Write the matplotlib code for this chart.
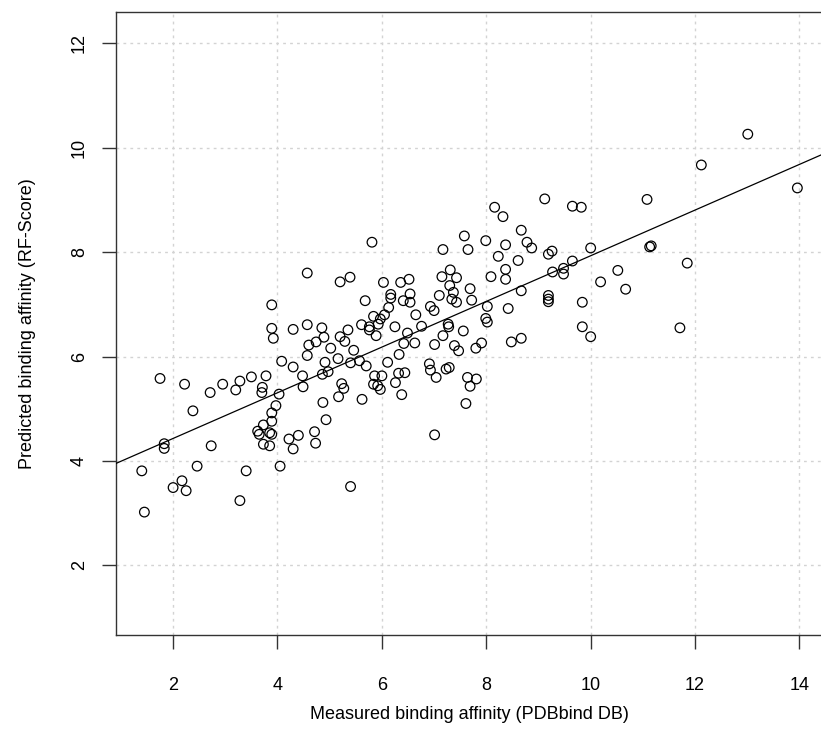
import numpy as np
import matplotlib
matplotlib.use("Agg")
import matplotlib.pyplot as plt

plt.rcParams['font.family'] = ['Liberation Sans', 'DejaVu Sans']

# measured (x) and predicted (y) binding affinities
measured = [
    1.75, 2.22, 2.38, 2.71, 2.95, 3.20, 3.28, 3.50, 3.78, 3.71, 3.70, 3.89, 3.89, 3.92, 4.08, 4.03,
    3.97, 3.89, 3.89, 3.73, 3.62, 3.65, 3.85, 3.89, 3.73, 3.85, 4.05, 1.83, 1.83, 1.40, 1.45, 2.46,
    2.17, 2.00, 2.25, 2.73, 3.40, 3.28, 4.22, 4.40, 4.30, 4.71, 4.73, 4.87, 4.93, 5.40, 4.30, 4.48,
    4.49, 4.30, 4.57, 4.57, 4.60, 4.74, 4.85, 4.89, 5.02, 4.91, 4.86, 4.97, 5.16, 5.20, 5.29, 5.35,
    5.46, 5.40, 5.23, 5.27, 5.17, 5.20, 5.39, 4.57,
    5.81, 5.68, 6.03, 6.36, 6.52, 6.17, 6.17, 6.13, 6.05, 5.84, 5.61, 5.76, 5.76, 5.93, 5.97, 5.89,
    6.25, 6.41, 6.54, 6.54, 6.65, 6.76, 6.49, 6.42, 6.63, 6.33, 6.11, 5.70, 5.57, 5.86, 6.00, 5.84,
    5.92, 5.97, 5.62, 6.26, 6.32, 6.44, 6.38, 6.91, 6.93, 7.04, 7.23, 7.29, 7.01, 7.61, 7.64, 7.81,
    7.69, 7.01, 7.17, 7.39, 7.47, 7.56, 7.80, 7.91, 7.27, 7.28, 6.93, 7.00, 7.10, 7.15, 7.31, 7.43,
    7.30, 7.37, 7.34, 7.43, 7.69, 7.72, 7.17, 7.58, 7.65, 7.99, 8.16, 8.32, 8.37, 8.23, 8.09, 8.37,
    8.37, 8.61, 8.67, 8.78, 8.87, 9.19, 9.26, 9.27, 9.48, 9.48, 9.65, 8.67, 8.42, 8.02, 7.99, 8.02,
    9.19, 9.19, 9.19, 8.48, 8.67, 9.84, 9.84, 9.12, 9.65, 9.82,
    13.01, 12.12, 13.96, 11.08, 10.00, 11.13, 11.16, 11.85, 10.52, 10.19, 10.67, 10.00, 11.71,
]
predicted = [
    5.58, 5.47, 4.96, 5.31, 5.47, 5.36, 5.53, 5.61, 5.63, 5.41, 5.31, 6.99, 6.54, 6.35, 5.91, 5.28,
    5.06, 4.92, 4.76, 4.69, 4.57, 4.51, 4.54, 4.51, 4.32, 4.29, 3.90, 4.33, 4.24, 3.81, 3.02, 3.90,
    3.62, 3.49, 3.43, 4.29, 3.81, 3.24, 4.42, 4.49, 4.23, 4.56, 4.34, 5.12, 4.79, 3.51, 5.80, 5.63,
    5.42, 6.52, 6.61, 6.02, 6.22, 6.28, 6.55, 6.37, 6.16, 5.89, 5.66, 5.71, 5.96, 6.38, 6.29, 6.51,
    6.12, 5.88, 5.48, 5.39, 5.23, 7.43, 7.52, 7.60,
    8.19, 7.07, 7.42, 7.42, 7.48, 7.19, 7.12, 6.94, 6.80, 6.77, 6.61, 6.57, 6.51, 6.62, 6.72, 6.40,
    6.57, 7.07, 7.20, 7.04, 6.80, 6.58, 6.45, 6.25, 6.26, 6.04, 5.89, 5.82, 5.92, 5.63, 5.63, 5.47,
    5.44, 5.37, 5.18, 5.50, 5.68, 5.69, 5.27, 5.86, 5.74, 5.60, 5.76, 5.79, 4.50, 5.10, 5.60, 5.57,
    5.43, 6.23, 6.40, 6.21, 6.11, 6.49, 6.16, 6.26, 6.62, 6.57, 6.96, 6.88, 7.17, 7.53, 7.66, 7.51,
    7.36, 7.23, 7.10, 7.04, 7.30, 7.08, 8.05, 8.31, 8.05, 8.22, 8.86, 8.68, 8.14, 7.92, 7.53, 7.67,
    7.48, 7.84, 8.42, 8.19, 8.08, 7.96, 8.02, 7.62, 7.69, 7.58, 7.83, 7.26, 6.92, 6.96, 6.73, 6.66,
    7.17, 7.10, 7.05, 6.28, 6.35, 7.04, 6.57, 9.02, 8.88, 8.86,
    10.26, 9.67, 9.23, 9.01, 8.08, 8.10, 8.12, 7.79, 7.65, 7.43, 7.29, 6.38, 6.55,
]
ticks = [2, 4, 6, 8, 10, 12, 14]

x = np.array(measured)
y = np.array(predicted)
slope, intercept = np.polyfit(x, y, 1)

fig = plt.figure(figsize=(8.21, 7.47), dpi=100)
ax = fig.add_axes([0.1409, 0.1499, 0.8621, 0.834])

ax.set_xlim(0.90, 14.46)
ax.set_ylim(0.665, 12.6)
ax.set_xticks(ticks)
ax.set_yticks(ticks[:-1])

ax.grid(True, color='#d3d3d3', linestyle=(0, (2, 3)), linewidth=1)
ax.set_axisbelow(True)

ax.scatter(x, y, s=48, facecolors='none', edgecolors='black', linewidths=0.9, zorder=3)
xs = np.array(ax.get_xlim())
ax.plot(xs, intercept + slope * xs, color='black', linewidth=0.9, zorder=4)

for s in ax.spines.values():
    s.set_color('#333333')
    s.set_linewidth(1.0)

ax.tick_params(axis='both', length=10, width=1, color='#333333', labelsize=13)
ax.tick_params(axis='x', pad=20)
ax.tick_params(axis='y', pad=10)
for lab in ax.get_yticklabels():
    lab.set_rotation(90)
    lab.set_va('center')

ax.set_xlabel('Measured binding affinity (PDBbind DB)', fontsize=13, labelpad=9)
ax.set_ylabel('Predicted binding affinity (RF-Score)', fontsize=13, labelpad=25)

fig.savefig('out.png', dpi=100)
